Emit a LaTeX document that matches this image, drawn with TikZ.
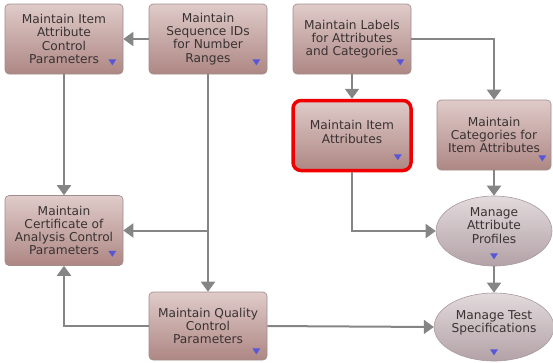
\documentclass[tikz,border=0pt]{standalone}
\usepackage{fontspec}
\setmainfont{DejaVu Sans}
\usetikzlibrary{arrows.meta,shapes.geometric,calc}

\definecolor{boxtop}{HTML}{DFCBC9}
\definecolor{boxbot}{HTML}{AE8784}
\definecolor{boxedge}{HTML}{A08C8A}
\definecolor{elltop}{HTML}{E2DADC}
\definecolor{ellbot}{HTML}{B3A2A7}
\definecolor{elledge}{HTML}{A89A9E}
\definecolor{txt}{HTML}{3A3232}
\definecolor{linegray}{HTML}{858585}
\definecolor{markblue}{HTML}{5656D6}
\definecolor{hilite}{HTML}{F00000}

\tikzset{
  task/.style={rectangle, rounded corners=4pt, draw=boxedge, line width=0.6pt,
    top color=boxtop, bottom color=boxbot, text=txt, align=center,
    minimum width=118pt, minimum height=70pt, inner sep=0pt,
    font=\fontsize{12.2}{13.2}\selectfont},
  current/.style={draw=hilite, line width=3.5pt, rounded corners=8pt},
  flow/.style={ellipse, draw=elledge, line width=0.6pt,
    top color=elltop, bottom color=ellbot, text=txt, align=center,
    minimum width=116pt, minimum height=70pt, inner sep=0pt,
    font=\fontsize{12.2}{13.2}\selectfont},
  link/.style={draw=linegray, line width=2pt,
    -{Triangle[width=14pt,length=10pt]}},
}

% small blue drop-down marker, placed relative to a point
\newcommand{\dropmark}[1]{%
  \fill[markblue] ($#1$) -- ++(8,0) -- ++(-4,6) -- cycle;}

\begin{document}
\begin{tikzpicture}[x=1pt,y=-1pt]
\useasboundingbox (0,0) rectangle (553,362);

% rectangular tasks
\node[task] (A) at (64,39)   {Maintain Item\\Attribute\\Control\\Parameters};
\node[task] (B) at (208,39)  {Maintain\\Sequence IDs\\for Number\\Ranges};
\node[task] (C) at (352,39)  {Maintain Labels\\for Attributes\\and Categories};
\node[task, current] (D) at (352,135.5) {Maintain Item\\Attributes\\[-6pt]\mbox{}};
\node[task, minimum width=114pt] (E) at (494,135) {Maintain\\Categories for\\Item Attributes};
\node[task] (F) at (64,230.5) {Maintain\\Certificate of\\Analysis Control\\Parameters};
\node[task, minimum height=68pt] (G) at (208,326) {Maintain Quality\\Control\\Parameters};

% elliptical tasks
\node[flow] (H) at (494,231) {Manage\\Attribute\\Profiles\\[-2pt]\mbox{}};
\node[flow, minimum height=68pt] (I) at (494,327) {Manage Test\\Specifications\\[-2pt]\mbox{}};

% drop-down markers
\dropmark{(A.south east)+(-15,-15)}
\dropmark{(B.south east)+(-15,-15)}
\dropmark{(C.south east)+(-15,-15)}
\dropmark{(D.south east)+(-19,-18)}
\dropmark{(E.south east)+(-13,-15)}
\dropmark{(F.south east)+(-15,-15)}
\dropmark{(G.south east)+(-15,-12)}
\dropmark{(H.south)+(-4,-13)}
\dropmark{(I.south)+(-4,-12)}

% connectors
\draw[link] (B.west) -- (A.east);
\draw[link] (A.south) -- (F.north);
\draw[link] (B.south) -- (G.north);
\draw[link] (B.south |- F.east) -- (F.east);
\draw[link] (G.west) -| (F.south);
\draw[link] (G.east) -- (I.west);
\draw[link] (C.south) -- (D.north);
\draw[link] (C.east) -| (E.north);
\draw[link] (D.south) |- (H.west);
\draw[link] (E.south) -- (H.north);
\draw[link] (H.south) -- (I.north);
\end{tikzpicture}
\end{document}
